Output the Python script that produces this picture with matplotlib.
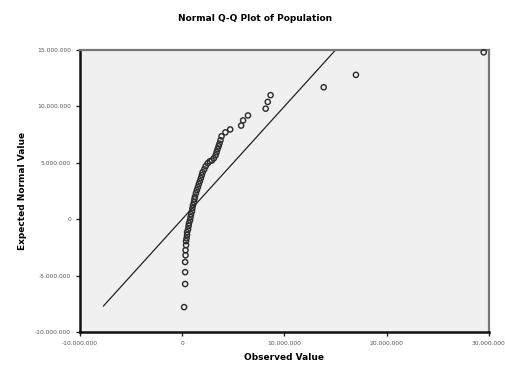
import matplotlib.pyplot as plt
from matplotlib.ticker import FuncFormatter

# observed values and expected normal values (millions)
observed = [0.19, 0.29, 0.29, 0.29, 0.33, 0.33, 0.38, 0.38, 0.43, 0.48,
            0.48, 0.58, 0.63, 0.67, 0.77, 0.82, 0.87, 0.96, 1.0, 1.06,
            1.15, 1.2, 1.25, 1.35, 1.44, 1.54, 1.63, 1.73, 1.83, 1.92,
            2.0, 2.16, 2.3, 2.5, 2.7, 2.9, 3.1, 3.27, 3.37, 3.46,
            3.56, 3.65, 3.75, 3.85, 4.23, 4.7, 5.77, 5.96, 6.44, 8.17,
            8.37, 8.65, 13.85, 17.0, 29.5]
expected = [-7.8, -5.75, -4.7, -3.8, -3.2, -2.75, -2.3, -1.95, -1.7, -1.4,
            -1.15, -0.9, -0.6, -0.35, -0.1, 0.18, 0.44, 0.7, 0.97, 1.24,
            1.5, 1.77, 2.0, 2.3, 2.57, 2.83, 3.1, 3.36, 3.63, 3.9,
            4.16, 4.42, 4.7, 4.96, 5.13, 5.2, 5.4, 5.66, 5.93, 6.2,
            6.46, 6.7, 7.0, 7.35, 7.7, 7.96, 8.3, 8.76, 9.2, 9.8,
            10.4, 11.0, 11.7, 12.8, 14.8]
line_range = [-7.7, 15.0]
xticks = [-10, 0, 10, 20, 30]
yticks = [-10, -5, 0, 5, 10, 15]

scale = 1e6
obs = [v * scale for v in observed]
exp = [v * scale for v in expected]


def fmt(v, pos):
    return f"{int(round(v)):,}".replace(",", ".")


fig = plt.figure(figsize=(5.06, 3.68), dpi=100)
ax = fig.add_axes([0.158, 0.098, 0.808, 0.766])
ax.set_facecolor("#f0f0f0")

lr = [v * scale for v in line_range]
ax.plot(lr, lr, color="#222222", lw=0.9, zorder=2)
ax.scatter(obs, exp, s=14, facecolors="none", edgecolors="#2a2a2a",
           linewidths=1.0, zorder=3, clip_on=False)

ax.set_xlim(-10 * scale, 30 * scale)
ax.set_ylim(-10 * scale, 15 * scale)
ax.set_xticks([t * scale for t in xticks])
ax.set_yticks([t * scale for t in yticks])
ax.xaxis.set_major_formatter(FuncFormatter(fmt))
ax.yaxis.set_major_formatter(FuncFormatter(fmt))
ax.tick_params(labelsize=4.3, length=3, width=1, colors="#222222",
               labelcolor="#555555")

for s in ["left", "bottom"]:
    ax.spines[s].set_linewidth(1.8)
    ax.spines[s].set_color("#111111")
for s in ["top", "right"]:
    ax.spines[s].set_linewidth(1.6)
    ax.spines[s].set_color("#777777")

ax.set_xlabel("Observed Value", fontsize=6.5, fontweight="bold", labelpad=5)
ax.set_ylabel("Expected Normal Value", fontsize=6.5, fontweight="bold", labelpad=6)
fig.text(0.505, 0.95, "Normal Q-Q Plot of Population", ha="center",
         va="center", fontsize=6.5, fontweight="bold")

fig.savefig("out.png", dpi=100)
